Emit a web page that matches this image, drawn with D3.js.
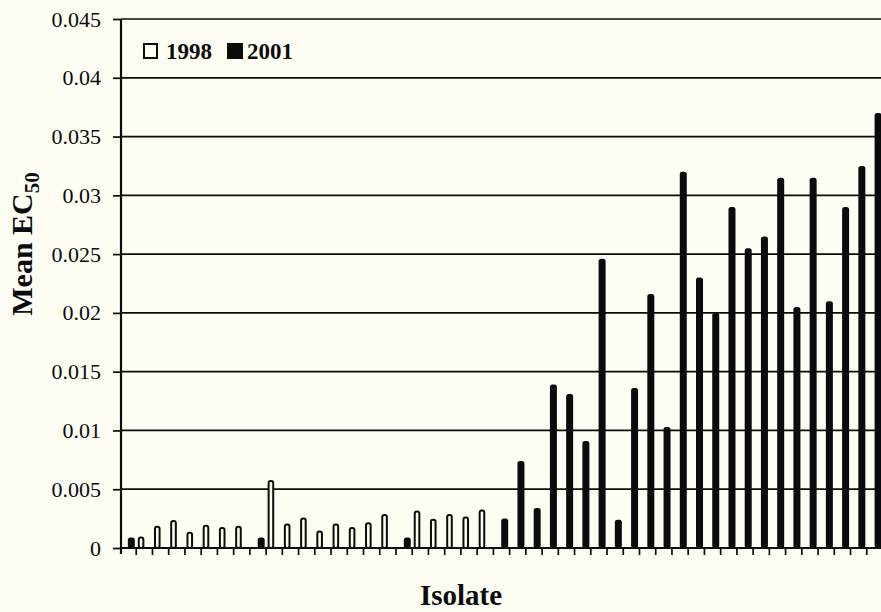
<!DOCTYPE html>
<html><head><meta charset="utf-8">
<script src="https://cdn.jsdelivr.net/npm/d3@7"></script>
<style>body{margin:0;background:#fdfdf4}svg{display:block}</style>
</head><body><svg id="c" width="881" height="612"></svg>
<script>
const isolates = ["1","2","3","4","5","6","7","8","9","10","11","12","13","14","15","16","17","18","19","20","21","22","23","24","25","26","27","28","29","30","31","32","33","34","35","36","37","38","39","40","41","42","43","44","45","46","47"];
const v1998 = [null,0.0009,0.0018,0.0023,0.0013,0.0019,0.0017,0.0018,null,0.0057,0.0020,0.0025,0.0014,0.0020,0.0017,0.0021,0.0028,null,0.0031,0.0024,0.0028,0.0026,0.0032,null,null,null,null,null,null,null,null,null,null,null,null,null,null,null,null,null,null,null,null,null,null,null,null];
const v2001 = [0.0009,null,null,null,null,null,null,null,0.0009,null,null,null,null,null,null,null,null,0.0009,null,null,null,null,null,0.0025,0.0074,0.0034,0.0139,0.0131,0.0091,0.0246,0.0024,0.0136,0.0216,0.0103,0.0320,0.0230,0.0200,0.0290,0.0255,0.0265,0.0315,0.0205,0.0315,0.0210,0.0290,0.0325,0.0370];
const yTicks = [0,0.005,0.01,0.015,0.02,0.025,0.03,0.035,0.04,0.045];
const yTickLabels = ["0","0.005","0.01","0.015","0.02","0.025","0.03","0.035","0.04","0.045"];
const seriesNames = ["1998","2001"];

const svg = d3.select("#c");
svg.append("rect").attr("width",881).attr("height",612).attr("fill","#fdfdf4");
const axisX = 121, right = 881;
const x = d3.scaleBand().domain(isolates).range([120, 883]);
const y = d3.scaleLinear().domain([0,0.045]).range([548,19]);
const ink = "#0b0b0b";
const serif = "'Liberation Serif','Times New Roman',serif";

// gridlines
svg.append("g").selectAll("line").data(yTicks.filter(d=>d>0)).join("line")
  .attr("x1",axisX).attr("x2",right).attr("y1",d=>y(d)).attr("y2",d=>y(d))
  .attr("stroke",ink).attr("stroke-width",1.7);

// y axis
const yAxis = d3.axisLeft(y).tickValues(yTicks).tickSize(8).tickPadding(12)
  .tickFormat((d,i)=>yTickLabels[i]);
const gy = svg.append("g").attr("transform",`translate(${axisX},0)`).call(yAxis);
gy.select(".domain").remove();
gy.selectAll(".tick line").attr("stroke",ink).attr("stroke-width",1.7);
gy.selectAll(".tick text").attr("font-family",serif).attr("font-size",22).attr("fill",ink);
svg.append("line").attr("x1",axisX).attr("x2",axisX).attr("y1",19).attr("y2",554)
  .attr("stroke",ink).attr("stroke-width",2.2);

// x axis
svg.append("line").attr("x1",axisX).attr("x2",right).attr("y1",548).attr("y2",548)
  .attr("stroke",ink).attr("stroke-width",2.2);
svg.append("g").selectAll("line").data(isolates.slice(1)).join("line")
  .attr("x1",d=>x(d)).attr("x2",d=>x(d)).attr("y1",548).attr("y2",555)
  .attr("stroke",ink).attr("stroke-width",1.7);

// bars
const bw = 6.6;
const centers = isolates.map(d=>x(d)+x.bandwidth()/2);
svg.append("g").selectAll("rect").data(isolates.filter((d,i)=>v1998[i]!=null)).join("rect")
  .attr("x",d=>centers[isolates.indexOf(d)]-bw+1)
  .attr("width",bw-2)
  .attr("y",d=>y(v1998[isolates.indexOf(d)]))
  .attr("height",d=>548-y(v1998[isolates.indexOf(d)]))
  .attr("rx",2)
  .attr("fill","#fdfdf4").attr("stroke",ink).attr("stroke-width",2);
svg.append("g").selectAll("rect").data(isolates.filter((d,i)=>v2001[i]!=null)).join("rect")
  .attr("x",d=>centers[isolates.indexOf(d)]-0.3)
  .attr("width",bw+0.4)
  .attr("y",d=>y(v2001[isolates.indexOf(d)]))
  .attr("height",d=>548-y(v2001[isolates.indexOf(d)]))
  .attr("rx",2.5)
  .attr("fill",ink);
// redraw baseline on top
svg.append("line").attr("x1",axisX).attr("x2",right).attr("y1",548).attr("y2",548)
  .attr("stroke",ink).attr("stroke-width",2.2);

// legend
const lg = svg.append("g").attr("font-family",serif).attr("font-weight","bold").attr("font-size",23).attr("fill",ink);
lg.append("rect").attr("x",144).attr("y",44).attr("width",13).attr("height",14)
  .attr("fill","#fdfdf4").attr("stroke",ink).attr("stroke-width",2);
lg.append("text").attr("x",166).attr("y",59).text(seriesNames[0]);
lg.append("rect").attr("x",227).attr("y",43).attr("width",16).attr("height",16).attr("fill",ink);
lg.append("text").attr("x",247).attr("y",59).text(seriesNames[1]);

// axis titles
svg.append("text").attr("x",461).attr("y",605).attr("text-anchor","middle")
  .attr("font-family",serif).attr("font-weight","bold").attr("font-size",29).attr("fill",ink)
  .text("Isolate");
const yt = svg.append("text").attr("transform","translate(32,244) rotate(-90)")
  .attr("text-anchor","middle").attr("font-family",serif).attr("font-weight","bold")
  .attr("font-size",30).attr("fill",ink);
yt.append("tspan").text("Mean EC");
yt.append("tspan").attr("font-size",21).attr("dy",7).text("50");
</script></body></html>
